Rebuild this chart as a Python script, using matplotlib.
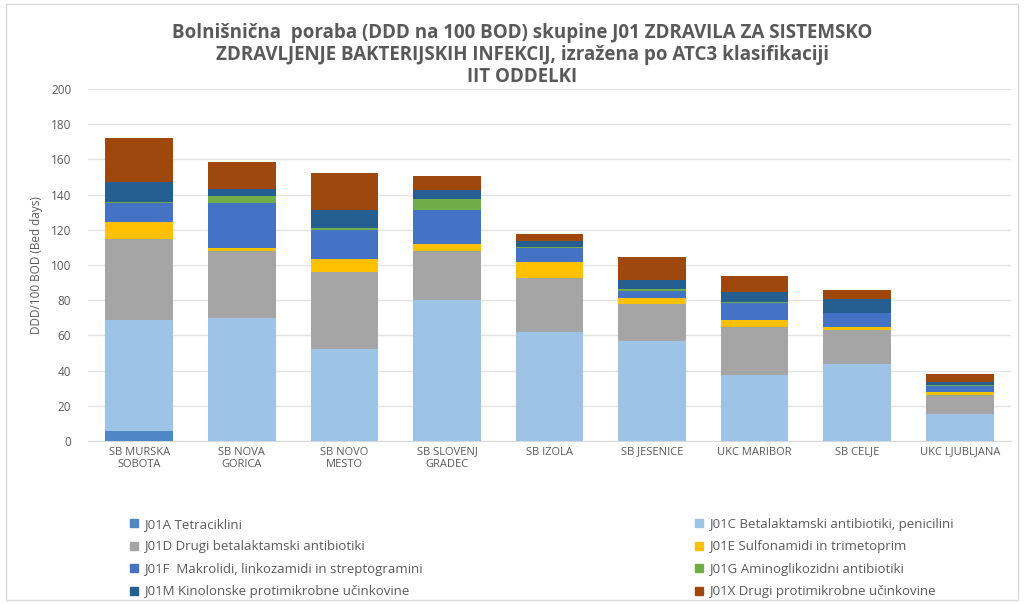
import numpy as np
import matplotlib.pyplot as plt
from matplotlib.patches import Patch

plt.rcParams['font.family'] = ['Open Sans', 'DejaVu Sans']

# hospitals (x categories)
hospitals = ['SB MURSKA\nSOBOTA', 'SB NOVA\nGORICA', 'SB NOVO\nMESTO', 'SB SLOVENJ\nGRADEC',
             'SB IZOLA', 'SB JESENICE', 'UKC MARIBOR', 'SB CELJE', 'UKC LJUBLJANA']

# ATC3 groups, DDD per 100 bed days
j01a = [5.5, 0, 0, 0, 0, 0, 0, 0, 0]
j01c = [63.5, 70, 52, 80, 62, 57, 37.5, 44, 15.5]
j01d = [46, 38, 44, 28, 30.5, 21, 27, 19, 10.5]
j01e = [9.5, 1.5, 7.5, 4, 9, 3, 4.5, 1.5, 2]
j01f = [10.5, 26, 16.5, 19, 8, 4.5, 9.5, 8, 3.5]
j01g = [1, 3.5, 1, 6.5, 0.5, 1, 0.5, 0.5, 0.3]
j01m = [11, 4, 10, 5, 3.5, 5, 5.5, 7.5, 1.5]
j01x = [25, 15.5, 21, 8, 4, 13, 9, 5.5, 4.5]

labels = ['J01A Tetraciklini',
          'J01C Betalaktamski antibiotiki, penicilini',
          'J01D Drugi betalaktamski antibiotiki',
          'J01E Sulfonamidi in trimetoprim',
          'J01F  Makrolidi, linkozamidi in streptogramini',
          'J01G Aminoglikozidni antibiotiki',
          'J01M Kinolonske protimikrobne učinkovine',
          'J01X Drugi protimikrobne učinkovine']
colors = ['#4f86c6', '#9dc3e6', '#a5a5a5', '#ffc000', '#4472c4', '#70ad47', '#255e91', '#9e480e']

series = [j01a, j01c, j01d, j01e, j01f, j01g, j01m, j01x]

fig = plt.figure(figsize=(10.24, 6.04), dpi=100)
# outer chart border
fig.patches.append(plt.Rectangle((0.006, 0.006), 0.988, 0.988, transform=fig.transFigure,
                                 fill=False, edgecolor='#d9d9d9', linewidth=1))

ax = fig.add_axes([88 / 1024, 1 - 441 / 604, (1011 - 88) / 1024, (441 - 89) / 604])

x = np.arange(len(hospitals))
bottom = np.zeros(len(hospitals))
for vals, c in zip(series, colors):
    ax.bar(x, vals, 0.66, bottom=bottom, color=c, zorder=3)
    bottom += np.array(vals)

ax.set_xlim(-0.5, len(hospitals) - 0.5)
ax.set_ylim(0, 200)
ax.set_yticks(range(0, 201, 20))
ax.yaxis.grid(True, color='#e3e3e3', linewidth=1, zorder=0)
ax.set_xticks(x)
ax.set_xticklabels(hospitals, fontsize=8, color='#595959', linespacing=1.15)
ax.tick_params(axis='y', labelsize=8.5, colors='#595959', length=0, pad=12)
ax.tick_params(axis='x', length=0, pad=4)
for s in ['top', 'right', 'left']:
    ax.spines[s].set_visible(False)
ax.spines['bottom'].set_color('#d9d9d9')
ax.set_ylabel('DDD/100 BOD (Bed days)', fontsize=8.5, color='#595959', labelpad=6)

fig.text(0.51, 1 - 55 / 604, 'Bolnišnična  poraba (DDD na 100 BOD) skupine J01 ZDRAVILA ZA SISTEMSKO\n'
         'ZDRAVLJENJE BAKTERIJSKIH INFEKCIJ, izražena po ATC3 klasifikaciji\nIIT ODDELKI',
         ha='center', va='center', fontsize=13.5, fontweight='bold', color='#595959',
         linespacing=1.15)

# legend: Excel fills row by row, matplotlib column by column
handles = [Patch(color=c) for c in colors]
order = [0, 2, 4, 6, 1, 3, 5, 7]
fig.legend([handles[i] for i in order], [labels[i] for i in order], ncol=2,
           loc='upper left', bbox_to_anchor=(118 / 1024, 1 - 506 / 604), frameon=False,
           fontsize=9.5, labelcolor='#595959', handlelength=0.6, handleheight=0.6,
           handletextpad=0.5, columnspacing=20.6, labelspacing=0.72)

fig.savefig('out.png', dpi=100)
